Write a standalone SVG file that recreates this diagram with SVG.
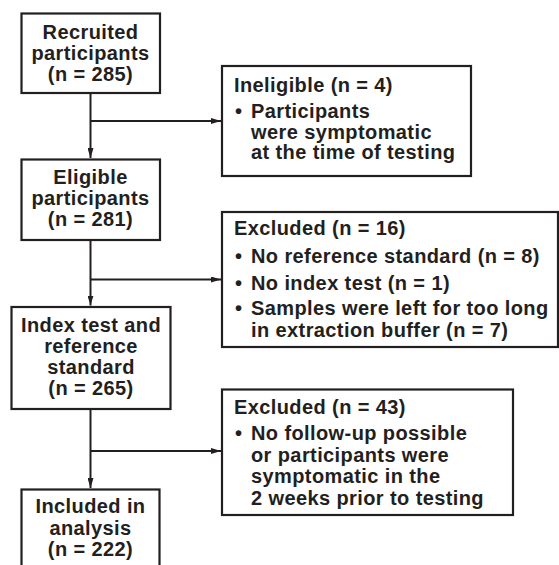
<svg xmlns="http://www.w3.org/2000/svg" width="559" height="565" viewBox="0 0 559 565">
  <defs>
    <style>
      .box { fill: #ffffff; stroke: #231f20; stroke-width: 2.2; }
      .t { font-family: "Liberation Sans", Arial, sans-serif; font-weight: bold; font-size: 20px; fill: #231f20; letter-spacing: 0.4px; }
      .c { text-anchor: middle; }
      .line { fill: none; stroke: #231f20; stroke-width: 2; }
    </style>
    <marker id="arrow" viewBox="0 0 10 6" refX="10" refY="3" markerWidth="10" markerHeight="6" markerUnits="userSpaceOnUse" orient="auto">
      <path d="M0,0 L10,3 L0,6 Z" fill="#231f20"/>
    </marker>
  </defs>
  <rect width="559" height="565" fill="#ffffff"/>

  <g id="connectors">
    <line class="line" x1="90.5" y1="93" x2="90.5" y2="158" marker-end="url(#arrow)"/>
    <line class="line" x1="90.5" y1="121" x2="221" y2="121" marker-end="url(#arrow)"/>
    <line class="line" x1="90.5" y1="240" x2="90.5" y2="305.5" marker-end="url(#arrow)"/>
    <line class="line" x1="90.5" y1="279.5" x2="221" y2="279.5" marker-end="url(#arrow)"/>
    <line class="line" x1="90.5" y1="409" x2="90.5" y2="488" marker-end="url(#arrow)"/>
    <line class="line" x1="90.5" y1="451" x2="221" y2="451" marker-end="url(#arrow)"/>
  </g>

  <g id="recruited">
    <rect class="box" x="21.5" y="13.5" width="138.5" height="79.5"/>
    <text class="t c" x="90.5" y="39">Recruited</text>
    <text class="t c" x="90.5" y="60">participants</text>
    <text class="t c" x="90.5" y="81">(n = 285)</text>
  </g>

  <g id="ineligible">
    <rect class="box" x="222" y="66" width="249" height="110"/>
    <text class="t" x="234" y="92">Ineligible (n = 4)</text>
    <text class="t" x="235" y="118">•</text>
    <text class="t" x="251" y="118">Participants</text>
    <text class="t" x="251" y="138.5">were symptomatic</text>
    <text class="t" x="251" y="159">at the time of testing</text>
  </g>

  <g id="eligible">
    <rect class="box" x="21.5" y="159.5" width="138.5" height="80.5"/>
    <text class="t c" x="90.5" y="184">Eligible</text>
    <text class="t c" x="90.5" y="205">participants</text>
    <text class="t c" x="90.5" y="226">(n = 281)</text>
  </g>

  <g id="excluded16">
    <rect class="box" x="222" y="212" width="336" height="135"/>
    <text class="t" x="234" y="235">Excluded (n = 16)</text>
    <text class="t" x="235" y="263">•</text>
    <text class="t" x="251" y="263">No reference standard (n = 8)</text>
    <text class="t" x="235" y="290">•</text>
    <text class="t" x="251" y="290">No index test (n = 1)</text>
    <text class="t" x="235" y="315">•</text>
    <text class="t" x="251" y="315">Samples were left for too long</text>
    <text class="t" x="251" y="336.5">in extraction buffer (n = 7)</text>
  </g>

  <g id="indextest">
    <rect class="box" x="11.5" y="307" width="159" height="102"/>
    <text class="t c" x="91" y="331.5">Index test and</text>
    <text class="t c" x="91" y="352.5">reference</text>
    <text class="t c" x="91" y="373.5">standard</text>
    <text class="t c" x="91" y="395">(n = 265)</text>
  </g>

  <g id="excluded43">
    <rect class="box" x="222" y="389.5" width="291" height="125.5"/>
    <text class="t" x="234" y="414">Excluded (n = 43)</text>
    <text class="t" x="235" y="440">•</text>
    <text class="t" x="251" y="440">No follow-up possible</text>
    <text class="t" x="251" y="461.5">or participants were</text>
    <text class="t" x="251" y="483">symptomatic in the</text>
    <text class="t" x="251" y="505">2 weeks prior to testing</text>
  </g>

  <g id="included">
    <rect class="box" x="21.5" y="489.5" width="138" height="90"/>
    <text class="t c" x="90.5" y="513">Included in</text>
    <text class="t c" x="90.5" y="534.5">analysis</text>
    <text class="t c" x="90.5" y="556">(n = 222)</text>
  </g>
</svg>
